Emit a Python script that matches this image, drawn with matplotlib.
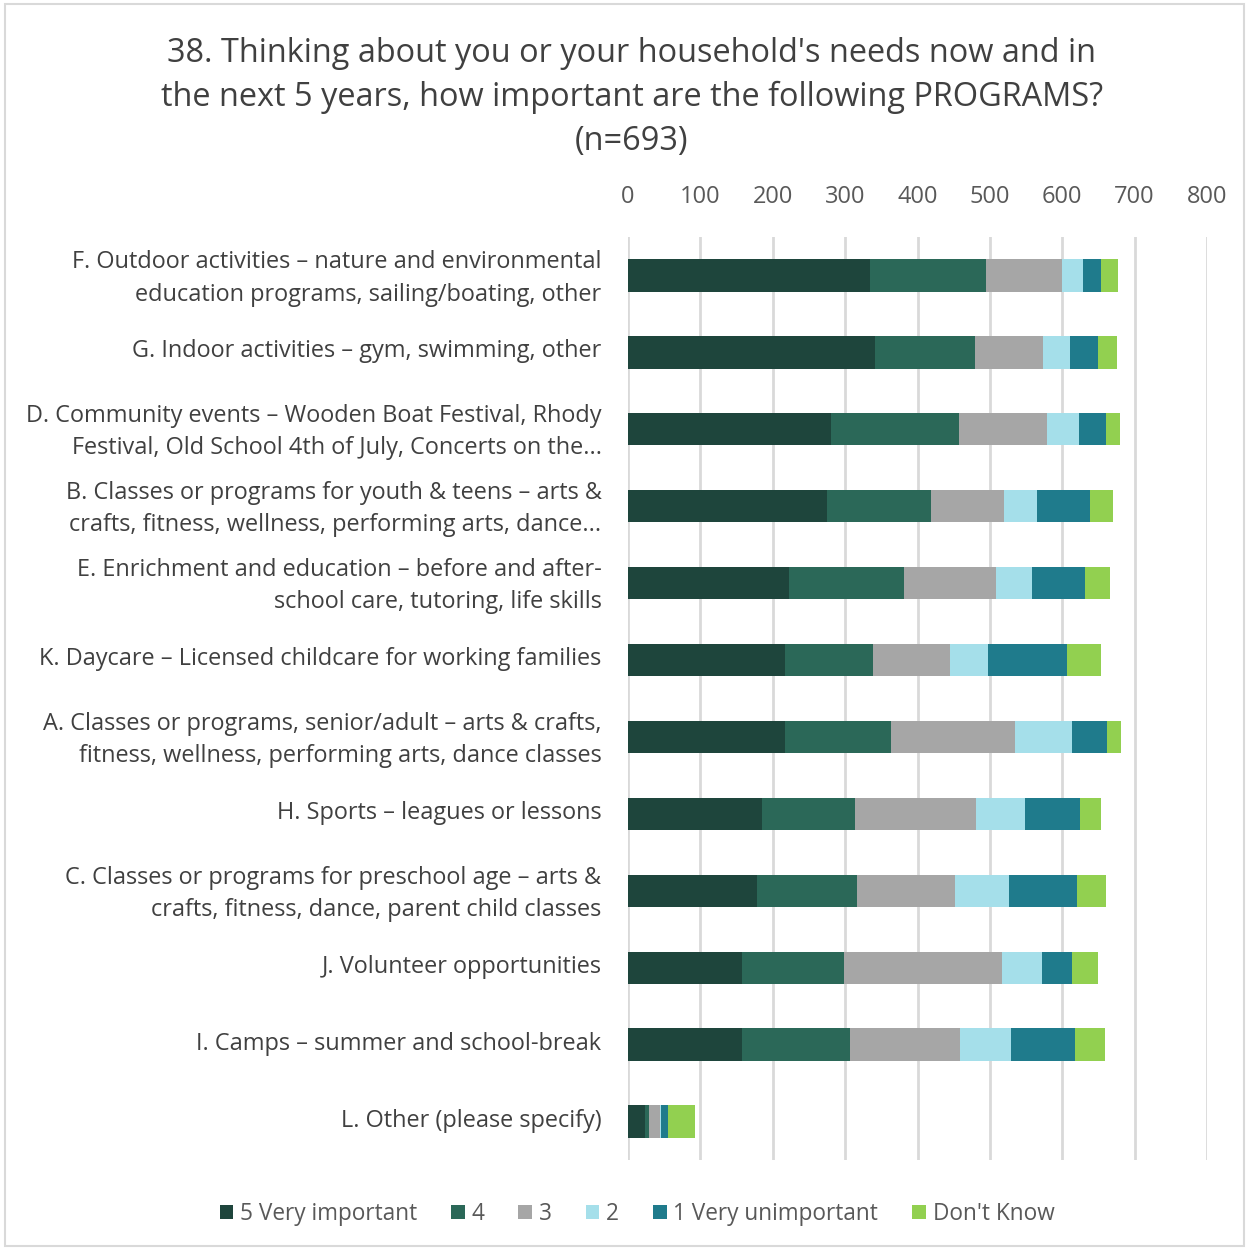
import numpy as np
import matplotlib
matplotlib.use("Agg")
import matplotlib.pyplot as plt
import matplotlib.transforms as mtransforms
from matplotlib.patches import Rectangle

plt.rcParams['font.family'] = ['Open Sans', 'DejaVu Sans']

# Data
categories = [
    "F. Outdoor activities \u2013 nature and environmental\neducation programs, sailing/boating, other",
    "G. Indoor activities \u2013 gym, swimming, other",
    "D. Community events \u2013 Wooden Boat Festival, Rhody\nFestival, Old School 4th of July, Concerts on the...",
    "B. Classes or programs for youth & teens \u2013 arts &\ncrafts, fitness, wellness, performing arts, dance...",
    "E. Enrichment and education \u2013 before and after-\nschool care, tutoring, life skills",
    "K. Daycare \u2013 Licensed childcare for working families",
    "A. Classes or programs, senior/adult \u2013 arts & crafts,\nfitness, wellness, performing arts, dance classes",
    "H. Sports \u2013 leagues or lessons",
    "C. Classes or programs for preschool age \u2013 arts &\ncrafts, fitness, dance, parent child classes",
    "J. Volunteer opportunities",
    "I. Camps \u2013 summer and school-break",
    "L. Other (please specify)",
]
very_important = [334, 341, 280, 275, 222, 217, 217, 185, 178, 158, 157, 24]
four = [161, 138, 177, 143, 160, 121, 147, 128, 138, 140, 150, 5]
three = [104, 94, 122, 101, 127, 107, 171, 168, 136, 219, 152, 15]
two = [30, 38, 44, 46, 49, 53, 78, 67, 74, 55, 70, 1]
very_unimportant = [25, 38, 37, 73, 74, 108, 49, 76, 94, 41, 89, 10]
dont_know = [23, 26, 20, 32, 34, 48, 19, 30, 40, 36, 41, 37]

series_names = ["5 Very important", "4", "3", "2", "1 Very unimportant", "Don't Know"]
series_values = [very_important, four, three, two, very_unimportant, dont_know]
colors = ["#1E453C", "#2B6858", "#A6A6A6", "#A5DFEA", "#1F7B8C", "#92D050"]
xticks = [0, 100, 200, 300, 400, 500, 600, 700, 800]

fig = plt.figure(figsize=(12.49, 12.5), dpi=100)
fig.patches.append(Rectangle((0.004, 0.003), 0.992, 0.994, transform=fig.transFigure,
                             fill=False, edgecolor="#D9D9D9", linewidth=1.5))

ax = fig.add_axes([0.5028, 0.072, 0.4636, 0.7384])
y = np.arange(len(categories))
left = np.zeros(len(categories))
for name, vals, c in zip(series_names, series_values, colors):
    ax.barh(y, vals, left=left, height=0.42, color=c, label=name, zorder=3)
    left += np.array(vals)

ax.set_ylim(len(categories) - 0.5, -0.5)
ax.set_xlim(0, 800)
ax.set_xticks(xticks)
ax.xaxis.tick_top()
ax.tick_params(axis='x', length=0, pad=20, labelsize=17, labelcolor="#595959")
ax.set_yticks(y)
ax.set_yticklabels(categories, fontsize=16.9, color="#404040", linespacing=1.45)
ax.tick_params(axis='y', length=0, pad=19)
shift = mtransforms.ScaledTranslation(0, 4 / 100, fig.dpi_scale_trans)
for lab in ax.get_yticklabels():
    lab.set_horizontalalignment('right')
    lab.set_transform(lab.get_transform() + shift)
ax.grid(axis='x', color="#D9D9D9", linewidth=2, zorder=0)
for s in ax.spines.values():
    s.set_visible(False)

fig.text(0.506, 0.922, "38. Thinking about you or your household's needs now and in\n"
         "the next 5 years, how important are the following PROGRAMS?\n(n=693)",
         ha='center', va='center', fontsize=23.4, color="#404040", linespacing=1.45)

fig.legend(loc='center', bbox_to_anchor=(0.51, 0.029), ncol=6, frameon=False,
           fontsize=16.3, handlelength=0.6, handleheight=0.6, handletextpad=0.3,
           columnspacing=1.5, labelcolor="#595959")

fig.savefig("out.png", dpi=100)
